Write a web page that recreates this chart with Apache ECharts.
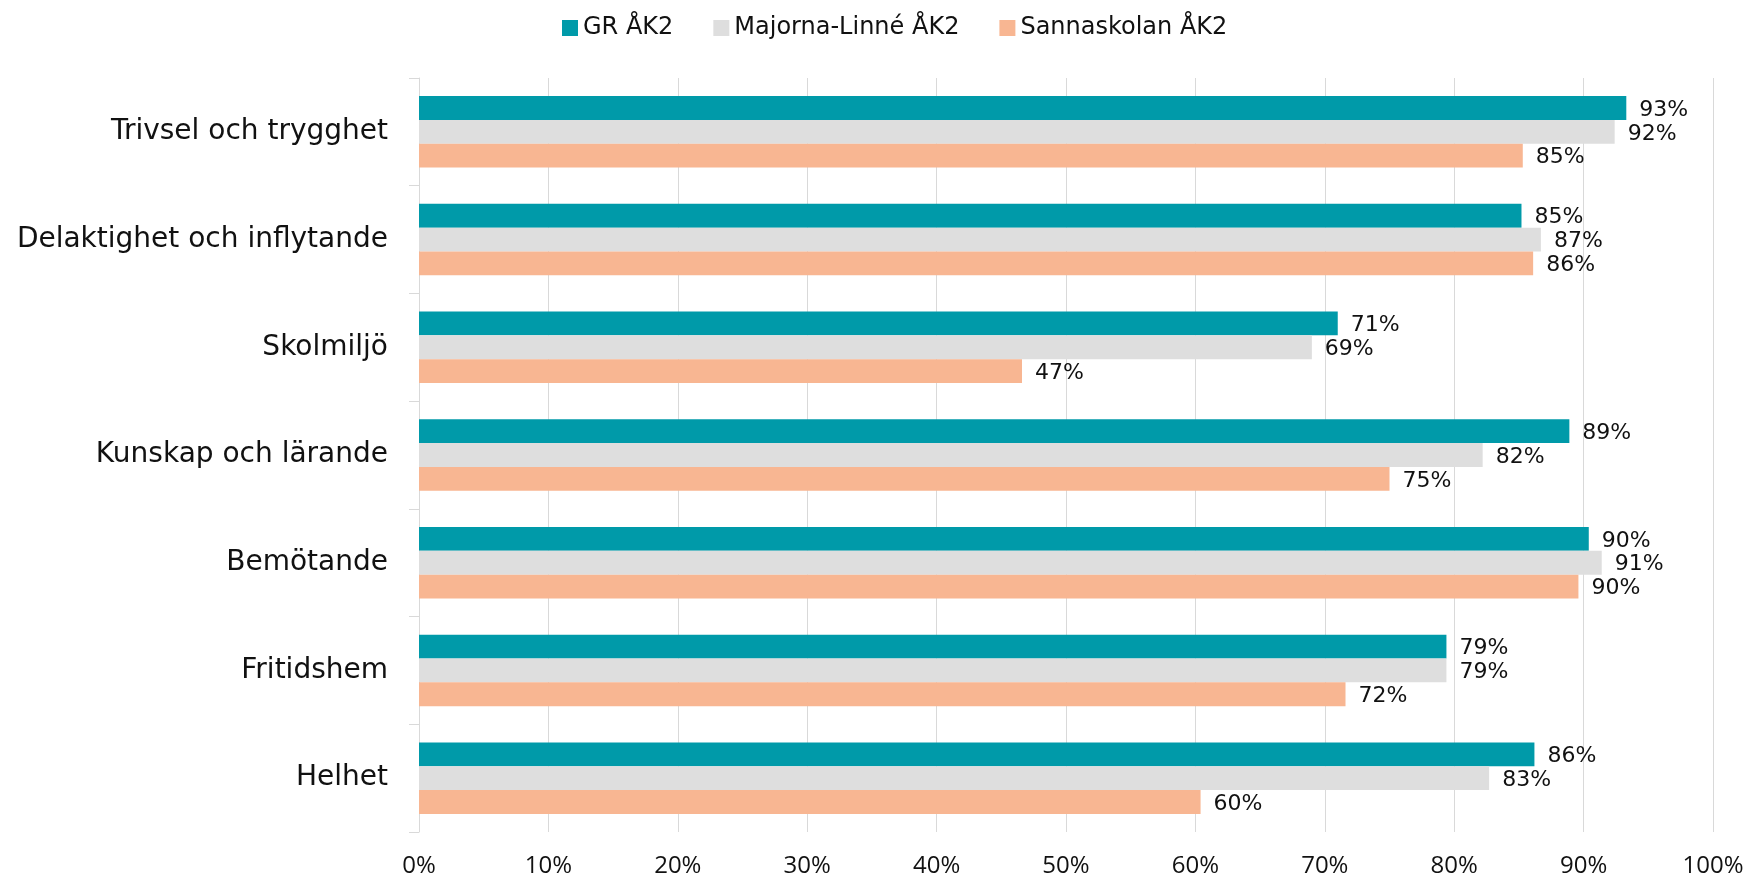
<!DOCTYPE html>
<html>
<head>
<meta charset="utf-8">
<script src="https://cdn.jsdelivr.net/npm/echarts@6/dist/echarts.min.js"></script>
<style>html,body{margin:0;padding:0;background:#fff;}#c{width:1748px;height:878px;}</style>
</head>
<body>
<div id="c"></div>
<script>
const categories = ["Trivsel och trygghet","Delaktighet och inflytande","Skolmiljö","Kunskap och lärande","Bemötande","Fritidshem","Helhet"];
const seriesNames = ["GR ÅK2","Majorna-Linné ÅK2","Sannaskolan ÅK2"];
const grValues = [93.3, 85.2, 71.0, 88.9, 90.4, 79.4, 86.2];
const majornaValues = [92.4, 86.7, 69.0, 82.2, 91.4, 79.4, 82.7];
const sannaValues = [85.3, 86.1, 46.6, 75.0, 89.6, 71.6, 60.4];
const xTicks = [0,10,20,30,40,50,60,70,80,90,100];
const colors = ["#009AA9","#DEDEDE","#F8B692"];

const chart = echarts.init(document.getElementById('c'), null, {renderer:'canvas'});
const mk = (name, data, color) => ({
  name, type:'bar', data,
  barGap: '0%', barCategoryGap: '33.6%',
  itemStyle:{color},
  label:{show:true, position:'right', distance:13, color:'#111',
    fontFamily:'DejaVu Sans', fontSize:22, offset:[0,2],
    formatter:p=>Math.round(p.value)+'%'}
});
chart.setOption({
  animation:false,
  backgroundColor:'#fff',
  color: colors,
  legend:{
    top:11, left:557, itemWidth:16, itemHeight:16, itemGap:40, icon:'rect',
    textStyle:{fontFamily:'DejaVu Sans', fontSize:24, color:'#111'},
    data: seriesNames
  },
  grid:{left:419, right:35, top:78, bottom:45, containLabel:false},
  xAxis:{
    type:'value', min:xTicks[0], max:xTicks[xTicks.length-1], interval:10,
    axisLine:{show:false}, axisTick:{show:false},
    splitLine:{show:true, lineStyle:{color:'#D9D9D9', width:1}},
    axisLabel:{formatter:v=>v+'%', fontFamily:'Open Sans', fontSize:24, color:'#111', margin:22}
  },
  yAxis:{
    type:'category', data:categories, inverse:true,
    axisLine:{show:true, lineStyle:{color:'#D9D9D9'}},
    axisTick:{show:true, length:10, lineStyle:{color:'#D9D9D9'}},
    axisLabel:{fontFamily:'DejaVu Sans', fontSize:28, color:'#111', margin:31, padding:[4,0,0,0]}
  },
  series:[
    mk(seriesNames[0], grValues, colors[0]),
    mk(seriesNames[1], majornaValues, colors[1]),
    mk(seriesNames[2], sannaValues, colors[2])
  ]
});
</script>
</body>
</html>
